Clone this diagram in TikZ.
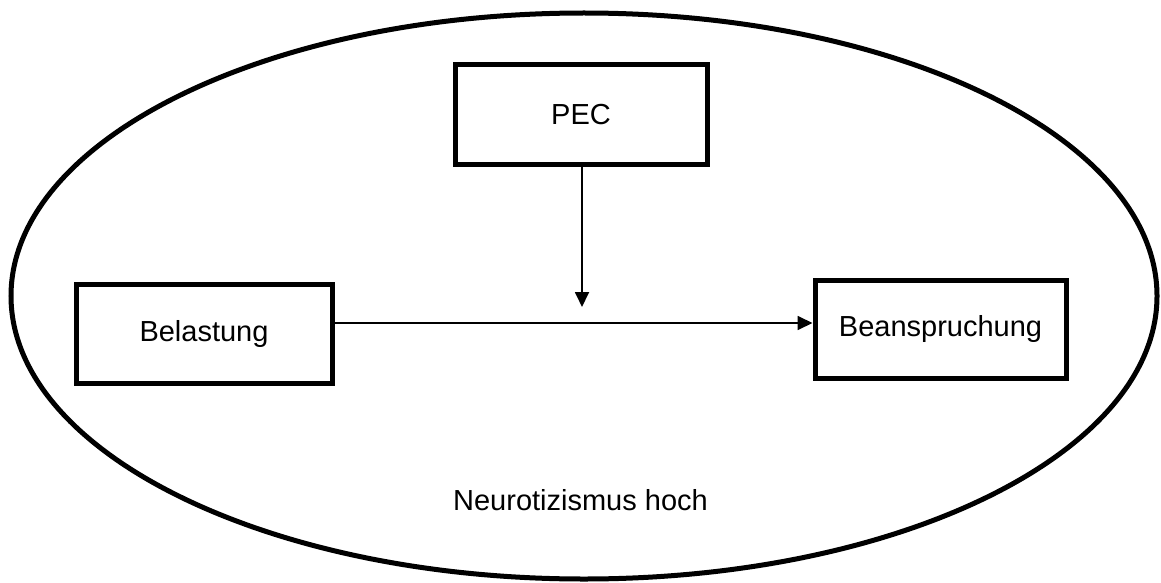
\documentclass[tikz,border=0pt]{standalone}
\usepackage{fontspec}
\setmainfont{Liberation Sans}
\usetikzlibrary{arrows.meta}
\begin{document}
\begin{tikzpicture}[x=1pt,y=-1pt,
  box/.style={draw, line width=5pt, rectangle, inner sep=0pt,
    font=\fontsize{29}{34}\selectfont},
  link/.style={line width=1.8pt, -{Triangle[length=15pt,width=14pt]}},
  lbl/.style={font=\fontsize{29}{34}\selectfont, inner sep=0pt}]
  \useasboundingbox (0,0) rectangle (1161,583);
  % surrounding group
  \draw[line width=5pt] (584,296) ellipse [x radius=573, y radius=283];
  % boxes
  \node[box, minimum width=252pt, minimum height=99pt] (pec) at (581,114.5) {PEC};
  \node[box, minimum width=256pt, minimum height=99pt] (bel) at (204,333.5) {Belastung};
  \node[box, minimum width=251pt, minimum height=98pt] (bea) at (940.5,329) {Beanspruchung};
  \node[lbl, anchor=base] (neuro) at (580.5,510) {Neurotizismus hoch};
  % connectors
  \coordinate (mod) at (582,307);
  \draw[link] (bel.east |- 0,323) -- (bea.west |- 0,323);
  \draw[link] (pec.south -| mod) -- (mod);
\end{tikzpicture}
\end{document}
